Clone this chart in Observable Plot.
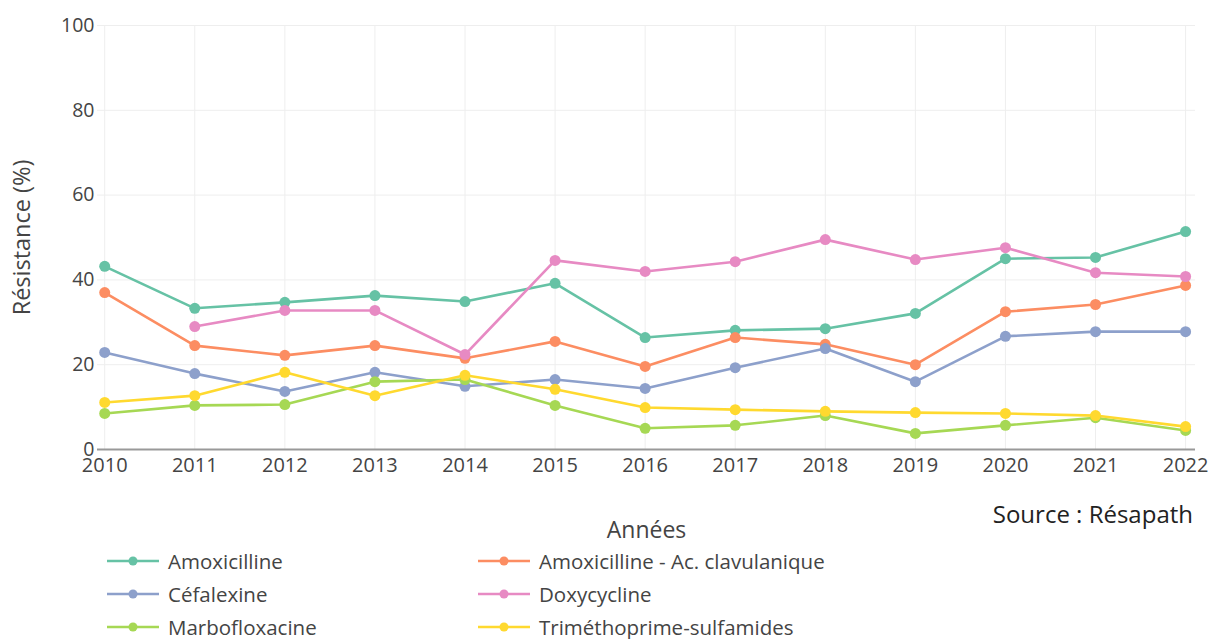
<!DOCTYPE html>
<html>
<head>
<meta charset="utf-8">
<script src="https://cdn.jsdelivr.net/npm/d3@7"></script>
<script src="https://cdn.jsdelivr.net/npm/@observablehq/plot@0.6"></script>
<style>
  body { margin: 0; background: #fff; font-family: "Open Sans", sans-serif; }
  #wrap { position: relative; width: 1210px; height: 639px; }
  #source { position: absolute; right: 17px; top: 498px; font-size: 24px; line-height: 32px; color: #222; }
  #legend { position: absolute; left: 107px; top: 550px; display: grid; grid-template-columns: 371px 400px; row-gap: 11px; font-size: 20.5px; color: #444; }
  .item { display: flex; align-items: center; height: 22px; line-height: 22px; white-space: nowrap; }
  .item svg { margin-right: 9px; }
</style>
</head>
<body>
<div id="wrap">
  <div id="chart"></div>
  <div id="source">Source : Résapath</div>
  <div id="legend"></div>
</div>
<script>
const years = [2010, 2011, 2012, 2013, 2014, 2015, 2016, 2017, 2018, 2019, 2020, 2021, 2022];
const seriesNames = ["Amoxicilline", "Amoxicilline - Ac. clavulanique", "Céfalexine", "Doxycycline", "Marbofloxacine", "Triméthoprime-sulfamides"];
const colors = ["#66c2a5", "#fc8d62", "#8da0cb", "#e78ac3", "#a6d854", "#ffd92f"];
const amoxicilline = [43.2, 33.3, 34.7, 36.3, 34.9, 39.2, 26.4, 28.1, 28.5, 32.1, 45.0, 45.3, 51.4];
const amoxClav = [37.0, 24.5, 22.2, 24.5, 21.5, 25.5, 19.6, 26.4, 24.8, 20.0, 32.5, 34.2, 38.7];
const cefalexine = [22.9, 17.9, 13.7, 18.2, 14.9, 16.5, 14.4, 19.3, 23.8, 16.0, 26.7, 27.8, 27.8];
const doxycycline = [null, 29.0, 32.8, 32.8, 22.4, 44.6, 42.0, 44.3, 49.5, 44.8, 47.6, 41.7, 40.8];
const marbofloxacine = [8.5, 10.4, 10.6, 16.0, 16.5, 10.4, 5.0, 5.7, 8.0, 3.8, 5.7, 7.5, 4.5];
const tmpSulfa = [11.1, 12.7, 18.2, 12.7, 17.5, 14.2, 9.9, 9.4, 9.0, 8.7, 8.5, 8.0, 5.4];
const yTicks = [0, 20, 40, 60, 80, 100];

const allSeries = [amoxicilline, amoxClav, cefalexine, doxycycline, marbofloxacine, tmpSulfa];
const data = [];
allSeries.forEach((vals, i) => {
  vals.forEach((v, j) => {
    if (v != null) data.push({serie: seriesNames[i], year: years[j], value: v});
  });
});

const chart = Plot.plot({
  width: 1210,
  height: 545,
  marginLeft: 97,
  marginRight: 15,
  marginTop: 25,
  marginBottom: 96,
  style: {fontFamily: "Open Sans", fontSize: "20px", color: "#444", background: "white"},
  x: {domain: [2009.92, 2022.11]},
  y: {domain: [0, 100]},
  color: {domain: seriesNames, range: colors},
  marks: [
    Plot.gridX(years, {stroke: "#eee", strokeOpacity: 1, strokeWidth: 1}),
    Plot.gridY(yTicks, {stroke: "#eee", strokeOpacity: 1, strokeWidth: 1}),
    Plot.ruleY([0], {stroke: "#999", strokeWidth: 2}),
    Plot.axisX(years, {tickSize: 0, tickPadding: 8, tickFormat: d => String(d), fontSize: 20, fill: "#444",
      label: null}),
    Plot.axisY(yTicks, {tickSize: 0, tickPadding: 3, fontSize: 19.5, fill: "#444", label: null}),
    Plot.text(["Années"], {frameAnchor: "bottom", dy: 88, fontSize: 23, fill: "#444"}),
    Plot.text(["Résistance (%)"], {frameAnchor: "left", dx: -75, rotate: -90, textAnchor: "middle", fontSize: 23.5, fill: "#444"}),
    Plot.line(data, {x: "year", y: "value", z: "serie", stroke: "serie", strokeWidth: 2.6}),
    Plot.dot(data, {x: "year", y: "value", fill: "serie", r: 5.5})
  ]
});
document.getElementById("chart").appendChild(chart);

const legend = document.getElementById("legend");
seriesNames.forEach((n, i) => {
  const d = document.createElement("div");
  d.className = "item";
  d.innerHTML = `<svg width="52" height="12"><line x1="0" x2="52" y1="6" y2="6" stroke="${colors[i]}" stroke-width="2.6"/><circle cx="26" cy="6" r="4.5" fill="${colors[i]}"/></svg><span>${n}</span>`;
  legend.appendChild(d);
});
</script>
</body>
</html>
